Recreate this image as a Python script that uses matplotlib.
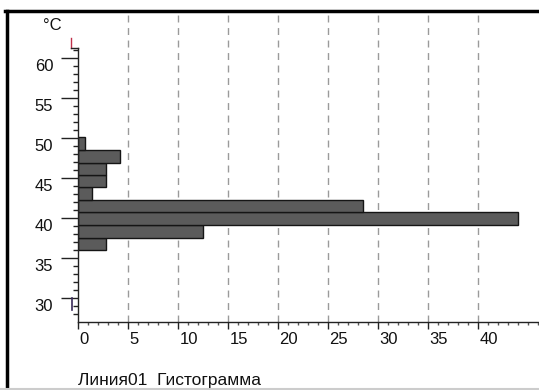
import numpy as np
import matplotlib
matplotlib.use('Agg')
import matplotlib.pyplot as plt
from matplotlib.lines import Line2D

plt.rcParams['font.family'] = ['Liberation Sans', 'DejaVu Sans']

# границы интервалов гистограммы (°C) и доля значений в интервале (%)
bin_edges = [36.0, 37.55, 39.12, 40.70, 42.25, 43.83, 45.38, 46.93, 48.45, 50.08]
percent = [2.78, 12.5, 44.0, 28.5, 1.39, 2.78, 2.78, 4.17, 0.7]

y_ticks = [30, 35, 40, 45, 50, 55, 60]
x_ticks = [0, 5, 10, 15, 20, 25, 30, 35, 40]
y_min_mark = 30.0   # нижняя метка диапазона
y_max_mark = 61.25  # верхняя метка диапазона

fig = plt.figure(figsize=(5.39, 3.90), dpi=100)
ax = fig.add_axes([78.3 / 539, 1 - 322 / 390, 1 - 78.3 / 539, (322 - 12) / 390])

lo = np.array(bin_edges[:-1])
h = np.diff(bin_edges)
ax.barh(lo, percent, height=h, align='edge', color='#5b5b5b',
        edgecolor='#151515', linewidth=1.0, zorder=3)

# вертикальная сетка пунктиром
for xv in x_ticks[1:]:
    ax.axvline(xv, color='#9a9a9a', linewidth=1.0, dashes=(5, 4), zorder=1)

ax.set_xlim(0, 46.07)
ax.set_ylim(27.0, 65.75)

for s in ['top', 'right', 'left']:
    ax.spines[s].set_visible(False)
ax.spines['bottom'].set_color('#222222')
ax.spines['bottom'].set_linewidth(1.0)

# ось y рисуем вручную, от низа до верхней метки
ax.plot([0, 0], [27.0, y_max_mark], color='#222222', linewidth=1.0, clip_on=False, zorder=4)

ax.set_yticks(y_ticks)
ax.set_yticks(np.arange(28, 62, 1), minor=True)
ax.set_xticks(x_ticks)
ax.set_xticks(np.arange(0, 47, 1), minor=True)
ax.set_yticklabels([])
ax.set_xticklabels([])
ax.tick_params(axis='y', which='major', direction='out', length=12, width=1, color='#222222')
ax.tick_params(axis='y', which='minor', direction='out', length=3.8, width=1, color='#222222')
ax.tick_params(axis='x', which='major', direction='out', length=5, width=1, color='#222222')
ax.tick_params(axis='x', which='minor', direction='out', length=2.5, width=1, color='#555555')

for yv in y_ticks:
    ax.text(-2.5, yv - 0.15, str(yv), ha='right', va='top', fontsize=12, color='#111111')
for xv in x_ticks:
    ax.text(xv + 0.1, 25.8, str(xv), ha='left', va='top', fontsize=12, color='#111111')

# метки диапазона слева от оси
ax.plot([-0.72, -0.72], [y_max_mark, y_max_mark + 1.25], color='#c0304a',
        linewidth=1.0, clip_on=False)
ax.plot([-0.72, 0], [y_max_mark, y_max_mark], color='#222222', linewidth=1.0, clip_on=False)
ax.plot([-0.62, -0.62], [y_min_mark, y_min_mark - 1.5], color='#3a2a5a',
        linewidth=1.2, clip_on=False)

fig.text(43 / 539, 1 - 25 / 390, '°C', fontsize=12, ha='left', va='center', color='#111111')
fig.text(78 / 539, 1 - 381 / 390, 'Линия01  Гистограмма', fontsize=12.5,
         ha='left', va='center', color='#111111')

# рамка
fig.add_artist(Line2D([5 / 539, 1], [1 - 11 / 390, 1 - 11 / 390], color='black', linewidth=2.5,
                      transform=fig.transFigure))
fig.add_artist(Line2D([6.5 / 539, 6.5 / 539], [0, 1 - 11 / 390], color='black', linewidth=2.5,
                      transform=fig.transFigure))
fig.add_artist(Line2D([0, 1], [1.5 / 390, 1.5 / 390], color='#cccccc', linewidth=1.5,
                      transform=fig.transFigure))

fig.savefig('out.png', dpi=100)
